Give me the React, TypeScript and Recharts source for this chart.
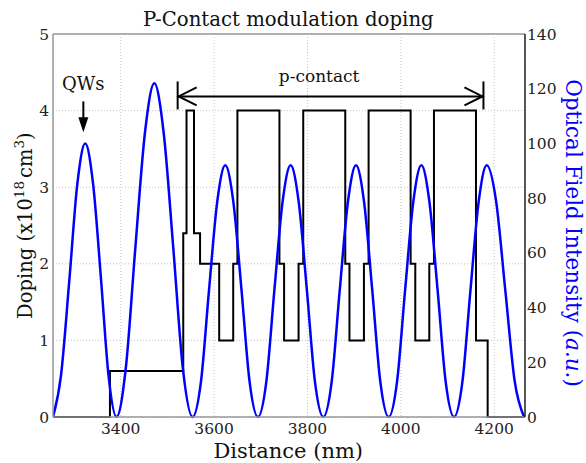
import React from 'react';
import { ComposedChart, Line, XAxis, YAxis, CartesianGrid, ReferenceLine, ReferenceDot } from 'recharts';

const distanceTicks = [3400, 3600, 3800, 4000, 4200];
const dopingTicks = [0, 1, 2, 3, 4, 5];
const opticalTicks = [0, 20, 40, 60, 80, 100, 120, 140];

// Doping profile (step changes), x in nm, doping in 1e18 cm^-3
const dopingX = [3255, 3377, 3534, 3541, 3557, 3570, 3611, 3641, 3650, 3740, 3750, 3781, 3791, 3881, 3890, 3921, 3931, 4021, 4031, 4061, 4071, 4161, 4186, 4266];
const dopingY = [0, 0.6, 2.4, 4.0, 2.4, 2.0, 1.0, 2.0, 4.0, 2.0, 1.0, 2.0, 4.0, 2.0, 1.0, 2.0, 4.0, 2.0, 1.0, 2.0, 4.0, 1.0, 0, 0];

// Optical field intensity
const opticalX = [
  3255, 3272, 3290, 3307, 3324, 3341, 3358, 3374, 3391,
  3411, 3431, 3452, 3472, 3492, 3513, 3533, 3554,
  3572, 3589, 3607, 3624, 3641, 3659, 3676, 3694,
  3712, 3729, 3747, 3764, 3781, 3799, 3816, 3834,
  3852, 3869, 3887, 3904, 3921, 3939, 3956, 3974,
  3992, 4009, 4027, 4044, 4061, 4079, 4096, 4114,
  4132, 4149, 4167, 4184, 4204, 4224, 4244, 4264,
];
const opticalY = [
  0, 15, 50, 85, 100, 85, 50, 15, 0,
  18, 61, 104, 122, 104, 61, 18, 0,
  13, 46, 79, 92, 79, 46, 13, 0,
  13, 46, 79, 92, 79, 46, 13, 0,
  13, 46, 79, 92, 79, 46, 13, 0,
  13, 46, 79, 92, 79, 46, 13, 0,
  13, 46, 79, 92, 79, 46, 13, 0,
];

const dopingData = dopingX.map((x, i) => ({ x, doping: dopingY[i] }));
const opticalData = opticalX.map((x, i) => ({ x, optical: opticalY[i] }));

const FONT = 'DejaVu Serif';

const pStart = 3522;
const pEnd = 4177;
const pY = 4.185;

export default function App() {
  return (
    <div style={{ position: 'absolute', left: 0, top: 0, width: 586, height: 463 }}>
      <ComposedChart width={586} height={463} margin={{ top: 34, right: 0, bottom: 0, left: 0 }}>
        <CartesianGrid yAxisId="left" stroke="#c4c4c4" strokeDasharray="1 2" strokeWidth={1} />
        <XAxis
          dataKey="x"
          type="number"
          domain={[3255, 4266]}
          ticks={distanceTicks}
          allowDataOverflow
          height={46}
          axisLine={{ stroke: '#999', strokeWidth: 1.5 }}
          tickLine={false}
          tickSize={4}
          tickMargin={2}
          tick={{ fill: '#222', fontSize: 15.5, fontFamily: FONT }}
        />
        <YAxis
          yAxisId="left"
          domain={[0, 5]}
          ticks={dopingTicks}
          width={53}
          axisLine={{ stroke: '#999', strokeWidth: 1.5 }}
          tickLine={false}
          tickSize={2}
          tickMargin={2}
          tick={{ fill: '#222', fontSize: 15.5, fontFamily: FONT }}
        />
        <YAxis
          yAxisId="right"
          orientation="right"
          domain={[0, 140]}
          ticks={opticalTicks}
          width={61}
          axisLine={{ stroke: '#222', strokeWidth: 1.5 }}
          tickLine={false}
          tickSize={0}
          tickMargin={2}
          tick={{ fill: '#222', fontSize: 15.5, fontFamily: FONT }}
        />
        <ReferenceLine yAxisId="left" y={5} stroke="#999" strokeWidth={1.5} />
        <Line yAxisId="left" data={dopingData} dataKey="doping" type="stepAfter" stroke="#000" strokeWidth={2} dot={false} isAnimationActive={false} />
        <Line yAxisId="right" data={opticalData} dataKey="optical" type="monotone" stroke="#0000ff" strokeWidth={2.5} dot={false} isAnimationActive={false} />

        {/* p-contact arrow */}
        <ReferenceLine yAxisId="left" segment={[{ x: pStart, y: pY }, { x: pEnd, y: pY }]} stroke="#000" strokeWidth={2} />
        <ReferenceDot
          yAxisId="left"
          x={pStart}
          y={pY}
          r={0}
          shape={(p: any) => (
            <g>
              <line x1={p.cx} y1={p.cy - 15} x2={p.cx} y2={p.cy + 13} stroke="#000" strokeWidth={2} />
              <polyline points={`${p.cx + 19},${p.cy - 9} ${p.cx + 1},${p.cy} ${p.cx + 19},${p.cy + 9}`} fill="none" stroke="#000" strokeWidth={2} />
            </g>
          )}
        />
        <ReferenceDot
          yAxisId="left"
          x={pEnd}
          y={pY}
          r={0}
          shape={(p: any) => (
            <g>
              <line x1={p.cx} y1={p.cy - 15} x2={p.cx} y2={p.cy + 13} stroke="#000" strokeWidth={2} />
              <polyline points={`${p.cx - 19},${p.cy - 9} ${p.cx - 1},${p.cy} ${p.cx - 19},${p.cy + 9}`} fill="none" stroke="#000" strokeWidth={2} />
            </g>
          )}
        />
        <ReferenceDot
          yAxisId="left"
          x={3825}
          y={4.368}
          r={0}
          shape={(p: any) => (
            <text x={p.cx} y={p.cy} textAnchor="middle" fontSize={17} fontFamily={FONT} fill="#111">p-contact</text>
          )}
        />

        {/* QWs arrow */}
        <ReferenceDot
          yAxisId="left"
          x={3320}
          y={4.264}
          r={0}
          shape={(p: any) => (
            <text x={p.cx} y={p.cy} textAnchor="middle" fontSize={18} fontFamily={FONT} fill="#111">QWs</text>
          )}
        />
        <ReferenceLine yAxisId="left" segment={[{ x: 3320, y: 4.12 }, { x: 3320, y: 3.85 }]} stroke="#000" strokeWidth={2} />
        <ReferenceDot
          yAxisId="left"
          x={3320}
          y={3.716}
          r={0}
          shape={(p: any) => (
            <path d={`M${p.cx},${p.cy} L${p.cx - 5},${p.cy - 15} L${p.cx + 5},${p.cy - 15} Z`} fill="#000" />
          )}
        />
      </ComposedChart>
      <svg width={586} height={463} style={{ position: 'absolute', left: 0, top: 0, pointerEvents: 'none' }}>
        <text x={288.3} y={26} textAnchor="middle" fontSize={19.7} fontFamily={FONT} fill="#111">P-Contact modulation doping</text>
        <text x={288.3} y={457.5} textAnchor="middle" fontSize={21} fontFamily={FONT} fill="#111">Distance (nm)</text>
        <text transform="translate(32,225.6) rotate(-90)" textAnchor="middle" fontSize={19.5} fontFamily={FONT} fill="#111">
          Doping (x10<tspan dy={-8} fontSize={13.5}>18</tspan><tspan dy={8} dx={3}>cm</tspan><tspan dy={-8} fontSize={13.5}>3</tspan><tspan dy={8}>)</tspan>
        </text>
        <text transform="translate(565.5,233) rotate(90)" textAnchor="middle" fontSize={21.5} fontFamily={FONT} fill="#0000ff">
          Optical Field Intensity (<tspan fontStyle="italic">a.u.</tspan>)
        </text>
      </svg>
    </div>
  );
}
